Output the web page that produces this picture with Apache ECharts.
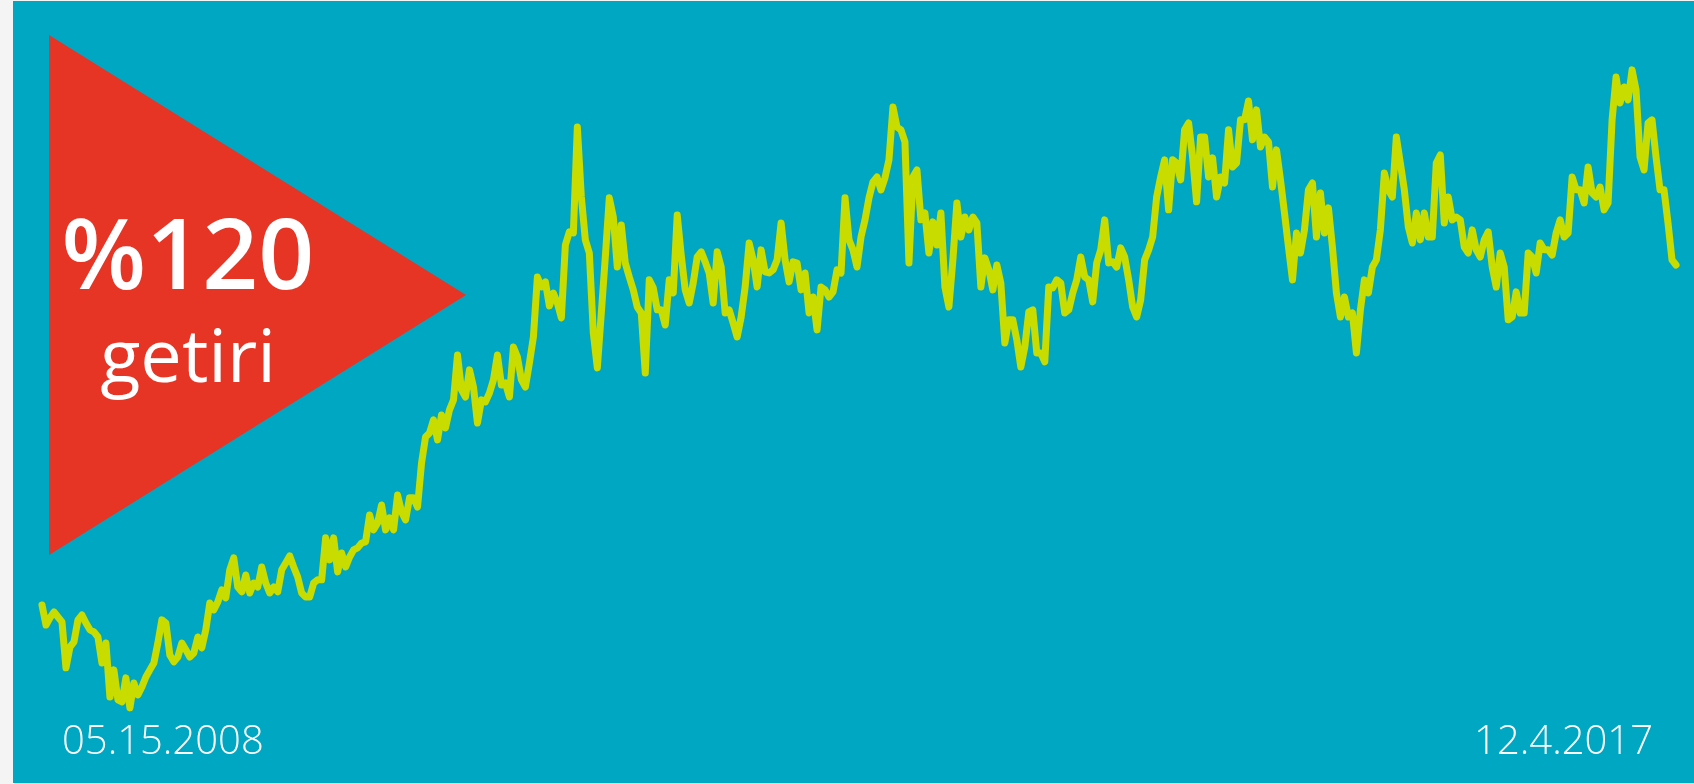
<!DOCTYPE html>
<html>
<head>
<meta charset="utf-8">
<script src="https://cdn.jsdelivr.net/npm/echarts@6/dist/echarts.min.js"></script>
<style>
html,body{margin:0;padding:0;background:#f4f4f4;overflow:hidden;}
#chart{width:1694px;height:784px;}
</style>
</head>
<body>
<div id="chart"></div>
<script>
// Index level (start = 100), one reading per equal time step
const indexValues = [
100.0,93.0,95.5,97.6,95.8,94.1,78.0,85.3,87.1,94.8,
96.5,93.7,91.3,90.6,88.8,79.7,86.7,67.8,77.3,66.8,
66.1,74.5,64.0,72.7,68.5,71.3,74.8,77.3,79.7,86.7,
94.8,93.7,82.5,80.1,81.8,86.7,84.3,81.8,83.2,88.8,
85.0,91.3,100.7,98.3,101.1,105.3,102.5,112.3,116.5,106.3,
104.6,110.5,104.2,107.7,106.3,113.3,107.7,104.2,106.3,104.6,
112.3,114.7,117.2,113.3,109.8,104.2,102.8,102.8,107.7,108.8,
108.8,123.5,115.8,123.5,111.6,118.2,113.3,116.8,119.3,120.0,
121.7,122.1,131.5,126.3,128.7,135.0,126.3,130.5,126.3,138.5,
132.6,129.8,137.5,137.5,134.3,149.7,158.8,160.2,164.8,157.8,
166.5,162.0,168.3,171.8,187.5,175.3,172.8,182.3,176.3,163.7,
171.8,171.1,174.2,178.8,187.5,177.0,177.7,172.8,190.3,186.8,
178.8,176.3,184.7,193.8,214.8,211.3,213.1,204.7,209.2,205.7,
200.5,226.0,230.6,230.2,267.3,242.8,227.8,223.2,195.2,183.0,
202.2,221.8,242.5,235.8,218.3,233.0,219.7,214.8,210.3,204.3,
202.2,181.2,213.8,211.0,203.3,203.3,198.0,213.8,209.2,236.5,
222.5,210.3,205.7,212.7,221.8,223.6,220.1,216.2,205.7,223.6,
218.3,202.2,203.3,198.7,193.8,200.8,211.3,226.7,220.8,211.3,
224.3,216.6,216.2,217.3,220.8,233.7,220.8,213.1,220.1,219.7,
210.3,216.2,202.2,207.8,196.3,211.3,210.3,207.8,209.6,217.3,
216.2,242.5,227.8,224.3,218.3,228.8,234.8,242.5,248.1,249.8,
245.3,249.5,255.8,274.3,267.3,266.3,262.1,219.7,249.8,252.3,
234.8,237.2,223.2,234.1,226.0,237.2,211.3,204.3,220.8,240.7,
228.8,235.8,231.3,235.8,233.7,211.3,221.5,217.3,210.3,219.0,
212.7,191.7,199.8,199.8,192.8,183.3,190.3,202.6,203.3,188.2,
188.2,185.1,211.3,211.0,213.8,212.7,202.2,203.3,209.2,213.8,
221.8,214.8,213.8,206.1,219.7,224.3,234.8,219.7,220.1,218.3,
225.0,221.8,213.8,204.3,200.8,206.8,220.8,224.3,228.8,242.8,
249.8,255.8,238.3,255.8,254.7,248.8,266.3,268.7,256.8,241.1,
263.8,263.8,249.8,256.5,242.8,249.8,247.7,266.3,253.3,254.7,
269.8,269.8,276.4,262.8,273.3,260.3,263.8,262.1,246.3,259.3,
248.8,237.2,225.3,213.8,230.2,223.2,231.3,245.3,247.7,228.8,
244.2,230.2,239.0,225.3,209.2,200.8,207.8,200.8,202.2,188.2,
203.3,213.8,209.2,218.3,220.8,231.3,251.2,245.3,242.8,263.8,
254.7,245.3,232.3,226.7,237.2,227.8,237.2,228.8,228.8,254.7,
257.5,233.7,242.8,234.8,235.8,234.8,225.3,223.2,231.3,224.3,
221.8,227.8,230.6,218.3,211.3,223.2,218.3,199.8,200.8,209.6,
202.2,202.2,223.2,221.8,216.2,226.7,224.3,224.3,222.5,230.2,
234.8,228.8,230.2,249.8,245.3,245.3,240.7,253.3,244.2,242.8,
246.3,238.3,240.7,269.8,284.8,275.7,281.3,276.8,287.3,280.3,
256.8,252.3,268.7,269.8,256.8,245.3,245.3,233.7,220.8,219.0
];
const dateLabels = ['05.15.2008', '12.4.2017'];
const headline = '%120';
const subline = 'getiri';
const sessions = indexValues.map((_, i) => i);

const chart = echarts.init(document.getElementById('chart'), null, {renderer: 'canvas'});
chart.setOption({
  animation: false,
  backgroundColor: 'transparent',
  grid: {left: 42, right: 18, top: 0, bottom: 0},
  xAxis: {type: 'category', data: sessions, boundaryGap: false, show: false},
  yAxis: {type: 'value', min: 37.35, max: 311.75, show: false},
  graphic: [
    {type: 'rect', z: 0, shape: {x: 13, y: 1, width: 1681, height: 782}, style: {fill: '#00a7c3'}},
    {type: 'polygon', z: 1, shape: {points: [[49, 35], [466, 295], [49, 555]]}, style: {fill: '#e63425'}},
    {type: 'text', z: 2, style: {text: headline, x: 188, y: 261, fill: '#ffffff',
      font: '600 98px "Open Sans", sans-serif', textAlign: 'center', textVerticalAlign: 'middle'}},
    {type: 'text', z: 2, style: {text: subline, x: 188, y: 361, fill: '#ffffff',
      font: '500 74px "Open Sans", sans-serif', textAlign: 'center', textVerticalAlign: 'middle'}},
    {type: 'text', z: 2, style: {text: dateLabels[0], x: 62, y: 743, fill: '#ffffff',
      font: '300 40px "Open Sans", sans-serif', textAlign: 'left', textVerticalAlign: 'middle'}},
    {type: 'text', z: 2, style: {text: dateLabels[1], x: 1653, y: 743, fill: '#ffffff',
      font: '300 40px "Open Sans", sans-serif', textAlign: 'right', textVerticalAlign: 'middle'}}
  ],
  series: [{
    type: 'line',
    z: 5,
    data: indexValues,
    symbol: 'none',
    showSymbol: false,
    lineStyle: {color: '#c8dc00', width: 7, cap: 'round', join: 'round'}
  }]
});
</script>
</body>
</html>
